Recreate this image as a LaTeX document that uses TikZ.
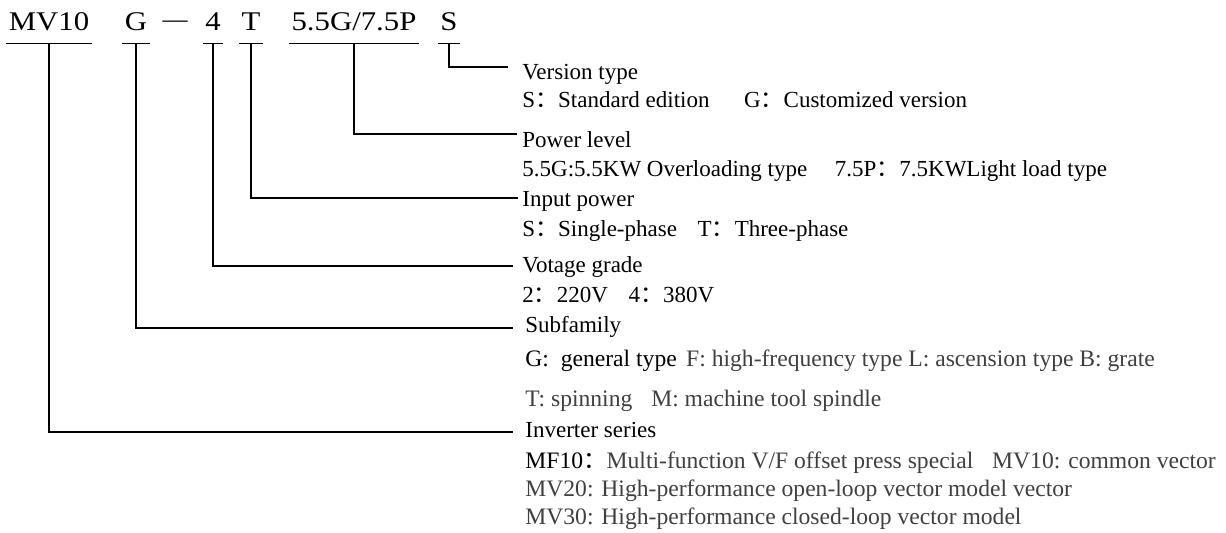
\documentclass[tikz,border=0pt]{standalone}
\usepackage{fontspec}
\setmainfont{Liberation Serif}
\newfontfamily\cjk{Noto Sans CJK SC}
\newfontfamily\codefont[FakeStretch=1.14]{Liberation Serif}
\usetikzlibrary{positioning, calc}
\definecolor{notegray}{HTML}{404040}
\newcommand{\fc}{{\cjk ：}}

\begin{document}
\begin{tikzpicture}[
  x=0.5pt, y=-0.5pt,
  font=\fontsize{11.5}{13}\selectfont,
  code/.style={anchor=base, inner xsep=1pt, inner ysep=6pt, text depth=0pt,
               font=\codefont\fontsize{13.5}{15}\selectfont},
  desc/.style={anchor=base west, inner sep=0pt},
  note/.style={desc, text=notegray, font=\fontsize{11.8}{13}\selectfont},
  lead/.style={line width=0.6pt},
]
  \useasboundingbox (0,0) rectangle (1226,533);

  % --- model code ---
  \def\Base{31}
  \node[code] (mv) at (49,\Base)  {MV10};
  \node[code] (g)  at (136,\Base) {G};
  \node[anchor=base, font=\fontsize{12.5}{14}\selectfont] (dash) at (175,\Base) {\raisebox{0.15em}{—}};
  \node[code] (v)  at (213,\Base) {4};
  \node[code] (t)  at (251,\Base) {T};
  \node[code] (p)  at (354,\Base) {5.5G/7.5P};
  \node[code] (s)  at (449,\Base) {S};

  % --- descriptions ---
  \def\L{522}
  \node[desc] (vt)  at (\L,80)  {Version type};
  \node[desc] (vt2) at (\L,108) {S\fc Standard edition\hspace{1.5em}G\fc Customized version};
  \node[desc] (pl)  at (\L,148) {Power level};
  \node[desc] (pl2) at (\L,177) {5.5G:5.5KW Overloading type\hspace{1.2em}7.5P\fc 7.5KWLight load type};
  \node[desc] (ip)  at (\L,207) {Input power};
  \node[desc] (ip2) at (\L,237) {S\fc Single-phase\hspace{0.9em}T\fc Three-phase};
  \node[desc] (vg)  at (\L,273) {Votage grade};
  \node[desc] (vg2) at (\L,303) {2\fc 220V\hspace{0.9em}4\fc 380V};
  \node[desc] (sf)  at (525,333) {Subfamily};
  \node[note, text=black] (sf2) at (525,367) {G:\hspace{0.5em}general type\hspace{0.4em}\textcolor{notegray}{F: high-frequency type L: ascension type B: grate}};
  \node[note] (sf3) at (525,407) {T: spinning\hspace{0.8em}M: machine tool spindle};
  \node[desc] (is)  at (525,438) {Inverter series};
  \node[note, text=black] (is2) at (525,469) {MF10\fc\textcolor{notegray}{Multi-function V/F offset press special\hspace{0.8em}MV10: common vector}};
  \node[note] (is3) at (525,497) {MV20: High-performance open-loop vector model vector};
  \node[note] (is4) at (525,525) {MV30: High-performance closed-loop vector model};

  % --- lead ends ---
  \coordinate (es) at (508,67);
  \coordinate (ep) at (517,134);
  \coordinate (et) at (518,198);
  \coordinate (ev) at (513,266);
  \coordinate (eg) at (513,328);
  \coordinate (em) at (513,432);

  % --- underlines and leads ---
  \foreach \n in {mv,g,v,t,p,s}{ \draw[lead] (\n.south west) -- (\n.south east); }
  \foreach \n/\e in {s/es,p/ep,t/et,v/ev,g/eg,mv/em}{ \draw[lead] (\n.south) |- (\e); }
\end{tikzpicture}
\end{document}
